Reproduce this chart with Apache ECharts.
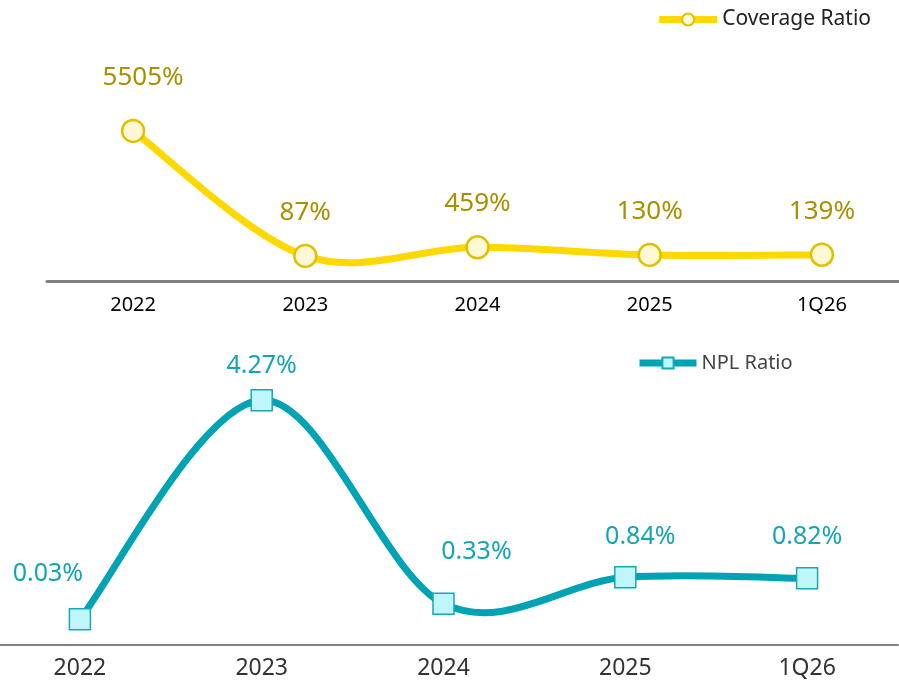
<!DOCTYPE html>
<html>
<head>
<meta charset="utf-8">
<script src="https://cdn.jsdelivr.net/npm/echarts@6/dist/echarts.min.js"></script>
<style>
  html, body { margin: 0; padding: 0; background: #ffffff; }
  #chart { width: 899px; height: 685px; }
</style>
</head>
<body>
<div id="chart"></div>
<script>
// Period labels shared by both panels
const periods = ['2022', '2023', '2024', '2025', '1Q26'];

// Coverage ratio (%)
const coverageRatio = [5505, 87, 459, 130, 139];

// Non-performing loan ratio (%)
const nplRatio = [0.03, 4.27, 0.33, 0.84, 0.82];

// Per-point label nudges [dx, dy] so labels clear the curve
const coverageLabelShift = [[10, -10], [0, 0], [0, 0], [0, 0], [0, 0]];
const nplLabelShift = [[-32, -4], [0, 7], [33, -10], [15, 1], [0, 0]];

const gold = '#FFD800';
const goldEdge = '#E0C000';
const goldFill = '#FFF8D4';
const goldText = '#A89000';
const teal = '#00A3B4';
const tealEdge = '#17A8B6';
const tealFill = '#BFF6FC';
const tealText = '#14A5B5';

// Smooth connecting curve: cardinal spline through the pixel positions
// the axes give for each value (one Bezier segment per data item).
function curveSeries(values, color, xIdx, yIdx, z) {
  const n = values.length;
  return {
    type: 'custom',
    xAxisIndex: xIdx, yAxisIndex: yIdx,
    clip: false, silent: true, z: z,
    data: values.map((v, i) => [i, v]),
    renderItem: (params, api) => {
      const i = params.dataIndex;
      if (i >= n - 1) return null;
      const pt = k => {
        const kk = Math.max(0, Math.min(n - 1, k));
        return api.coord([kk, values[kk]]);
      };
      const p0 = pt(i - 1), p1 = pt(i), p2 = pt(i + 1), p3 = pt(i + 2);
      const t = 1 / 6;
      const c1 = [p1[0] + (p2[0] - p0[0]) * t, p1[1] + (p2[1] - p0[1]) * t];
      const c2 = [p2[0] - (p3[0] - p1[0]) * t, p2[1] - (p3[1] - p1[1]) * t];
      return {
        type: 'path',
        shape: {
          pathData: 'M' + p1[0] + ' ' + p1[1] +
            ' C' + c1[0] + ' ' + c1[1] + ' ' + c2[0] + ' ' + c2[1] + ' ' + p2[0] + ' ' + p2[1]
        },
        style: { stroke: color, lineWidth: 7, fill: null, lineCap: 'round' }
      };
    }
  };
}

const chart = echarts.init(document.getElementById('chart'), null, { renderer: 'canvas' });

chart.setOption({
  animation: false,
  backgroundColor: '#ffffff',
  legend: [
    {
      data: ['Coverage Ratio'],
      right: 28, top: 9, padding: 0,
      itemWidth: 58, itemHeight: 15, itemGap: 3,
      lineStyle: { opacity: 1, width: 7 },
      textStyle: { fontFamily: 'Noto Sans', fontSize: 21, color: '#222222' }
    },
    {
      data: ['NPL Ratio'],
      left: 636, top: 353, padding: 0,
      itemWidth: 57, itemHeight: 14, itemGap: 3,
      lineStyle: { opacity: 1, width: 7 },
      textStyle: { fontFamily: 'Noto Sans', fontSize: 20, color: '#444444' }
    }
  ],
  grid: [
    { left: 47, width: 861, top: 41, bottom: 404, outerBoundsMode: 'none' },
    { left: -11, width: 909, top: 365, bottom: 40, outerBoundsMode: 'none' }
  ],
  xAxis: [
    {
      gridIndex: 0, type: 'category', data: periods, boundaryGap: true,
      axisLine: { onZero: false, lineStyle: { color: '#808080', width: 3 } },
      axisTick: { show: false },
      axisLabel: { fontFamily: 'Noto Sans', fontSize: 20, color: '#000000', margin: 14 }
    },
    {
      gridIndex: 1, type: 'category', data: periods, boundaryGap: true,
      axisLine: { onZero: false, lineStyle: { color: '#808080', width: 2 } },
      axisTick: { show: false },
      axisLabel: { fontFamily: 'Noto Sans', fontSize: 23, color: '#333333', margin: 12 }
    }
  ],
  yAxis: [
    { gridIndex: 0, type: 'value', min: -1000, max: 9400, show: false, splitLine: { show: false } },
    { gridIndex: 1, type: 'value', min: -0.47, max: 4.95, show: false, splitLine: { show: false } }
  ],
  series: [
    curveSeries(coverageRatio, gold, 0, 0, 2),
    curveSeries(nplRatio, teal, 1, 1, 2),
    {
      name: 'Coverage Ratio',
      type: 'line', xAxisIndex: 0, yAxisIndex: 0,
      symbol: 'circle', symbolSize: 22,
      lineStyle: { color: gold, width: 7, opacity: 0 },
      itemStyle: { color: goldFill, borderColor: goldEdge, borderWidth: 2.5 },
      data: coverageRatio.map((v, i) => ({
        value: v,
        label: { offset: coverageLabelShift[i] }
      })),
      label: {
        show: true, position: 'top', distance: 18,
        fontFamily: 'Noto Sans', fontSize: 26, color: goldText,
        formatter: p => p.value + '%'
      },
      z: 3
    },
    {
      name: 'NPL Ratio',
      type: 'line', xAxisIndex: 1, yAxisIndex: 1,
      symbol: 'rect', symbolSize: 21,
      lineStyle: { color: teal, width: 7, opacity: 0 },
      itemStyle: { color: tealFill, borderColor: tealEdge, borderWidth: 1.5 },
      data: nplRatio.map((v, i) => ({
        value: v,
        label: { offset: nplLabelShift[i] }
      })),
      label: {
        show: true, position: 'top', distance: 18,
        fontFamily: 'Noto Sans', fontSize: 25, color: tealText,
        formatter: p => p.value.toFixed(2) + '%'
      },
      z: 3
    }
  ]
});
</script>
</body>
</html>
